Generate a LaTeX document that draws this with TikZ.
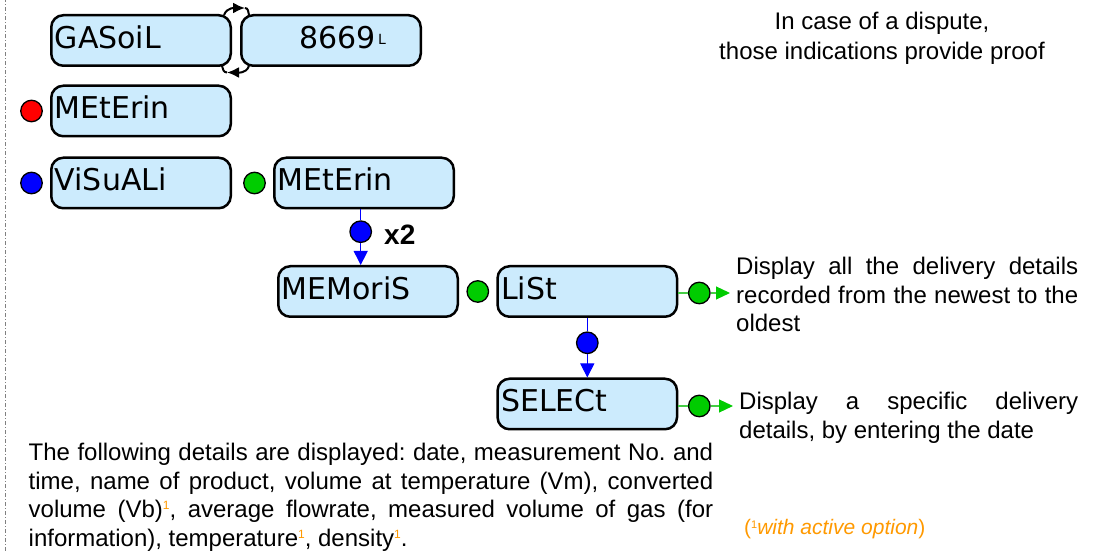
\documentclass[tikz,border=0pt]{standalone}
\usepackage{fontspec}
\setmainfont{Liberation Sans}
\newfontfamily\lcd{DejaVu Sans}
\usetikzlibrary{positioning, shapes.misc, arrows.meta}

\definecolor{lcdblue}{RGB}{204,235,253}
\definecolor{dotgreen}{RGB}{0,204,0}
\definecolor{linegreen}{RGB}{70,205,70}
\definecolor{optorange}{RGB}{255,153,0}

\tikzstyle{screen} = [rectangle, rounded corners=12pt, minimum width=179.5pt, minimum height=50.5pt, text width=172.5pt, inner xsep=3.5pt, text height=22pt, text depth=6.5pt, align=left, draw=black, line width=2.5pt, fill=lcdblue, font=\lcd\fontsize{30}{30}\selectfont]
\tikzstyle{led} = [circle, minimum size=21.5pt, inner sep=0pt, draw=black, line width=1.3pt]
\tikzstyle{bline} = [blue, line width=1pt]
\tikzstyle{barrow} = [blue, line width=1pt, -{Triangle[width=14pt,length=14pt]}]
\tikzstyle{gline} = [linegreen, line width=1.2pt]
\tikzstyle{garrow} = [linegreen, line width=1.2pt, -{Triangle[width=13pt,length=14pt,color=dotgreen]}, shorten >=6pt]
\tikzstyle{toggle} = [line width=2pt]
\tikzstyle{togglehead} = [line width=2pt, -{Latex[length=12pt,width=11pt]}]
\tikzstyle{desc} = [inner sep=0pt, font=\fontsize{24}{28.5}\selectfont, align=justify]
\def\dsx{37.5pt}
\newcommand{\optmark}{\raisebox{8pt}{\fontsize{12}{12}\selectfont\color{optorange}1}}

\tolerance=10000
\frenchspacing

\begin{document}
\begin{tikzpicture}[x=1pt, y=1pt, node distance=72pt]
\useasboundingbox (0,0) rectangle (1117,551);
\draw [gray, line width=0.8pt, dash pattern=on 4pt off 2pt on 1pt off 2pt] (5,0) -- (5,551);

\node (gasoil) [screen] at (141,510.5) {GASoiL};
\node (volume) [screen, right of=gasoil, xshift=118pt] {\hspace*{55pt}8669\kern2pt\raisebox{3.5pt}{\fontsize{14}{14}\selectfont L}};
% the two arrows between the two screens
\coordinate (ttop) at (245,543);
\coordinate (tbot) at (227,478.5);
\draw [togglehead] ([xshift=-8pt, yshift=-1pt]gasoil.north east) to[out=70, in=180] (ttop);
\draw [toggle] (ttop) to[out=0, in=100] ([xshift=9pt, yshift=-1pt]volume.north west);
\draw [togglehead] ([xshift=9pt, yshift=1pt]volume.south west) to[out=-110, in=0] (tbot);
\draw [toggle] (tbot) to[out=180, in=-80] ([xshift=-10pt, yshift=1pt]gasoil.south east);

\node (metering1) [screen, below of=gasoil, yshift=1.5pt] {MEtErin};
\node (rdot) [led, fill=red, left of=metering1, xshift=-\dsx] {};
\node (visu) [screen, below of=metering1] {ViSuALi};
\node (bdot1) [led, fill=blue, left of=visu, xshift=-\dsx] {};

\node (metering2) [screen, right of=visu, xshift=151pt] {MEtErin};
\node (gdot1) [led, fill=dotgreen, left of=metering2, xshift=-\dsx] {};
\node (bdot2) [led, fill=blue, below of=metering2, xshift=-3.3pt, yshift=23.3pt] {};
\node (times) [anchor=base west, inner sep=0pt, font=\fontsize{28}{30}\selectfont\bfseries] at (384,306) {x2};

\node (memoris) [screen, below of=metering2, yshift=-36.5pt, xshift=4pt] {MEMoriS};
\draw [bline] (metering2.south -| bdot2) -- (bdot2);
\draw [barrow] (bdot2) -- (bdot2 |- memoris.north);

\node (list) [screen, right of=memoris, xshift=147.3pt] {LiSt};
\node (gdot2) [led, fill=dotgreen, left of=list, xshift=-\dsx] {};
\node (gdot3) [led, fill=dotgreen, right of=list, xshift=40pt, yshift=-1.5pt] {};
\node (bdot3) [led, fill=blue, below of=list, yshift=20.7pt] {};

\node (select) [screen, below of=list, yshift=-40.5pt] {SELECt};
\node (gdot4) [led, fill=dotgreen, right of=select, xshift=40pt, yshift=-2pt] {};
\draw [bline] (list) -- (bdot3);
\draw [barrow] (bdot3) -- (select);

% texts on the right
\node (dispute) [anchor=base, align=center, inner sep=0pt, font=\fontsize{24}{30}\selectfont] at (882,491) {In case of a dispute,\\those indications provide proof};
\node (note1) [desc, text width=342pt, anchor=base west] at (736,276) {Display all the delivery details\linebreak recorded from the newest to the\linebreak oldest};
\node (note2) [desc, text width=339pt, anchor=base west] at (739,141) {Display a specific delivery\linebreak details, by entering the date};

\draw [gline] (list.east |- gdot3) -- (gdot3);
\draw [garrow] (gdot3) -- (gdot3 -| note1.west);
\draw [gline] (select.east |- gdot4) -- (gdot4);
\draw [garrow] (gdot4) -- (gdot4 -| note2.west);

\node (details) [desc, text width=684.5pt, anchor=base west] at (28.5,90) {The following details are displayed: date, measurement No. and\linebreak time, name of product, volume at temperature (Vm), converted\linebreak volume (Vb)\optmark, average flowrate, measured volume of gas (for\linebreak information), temperature\optmark, density\optmark.};
\node (optnote) [anchor=base west, inner sep=0pt, font=\fontsize{21}{24}\selectfont, text=optorange] at (744,16) {(\raisebox{6pt}{\fontsize{11}{11}\selectfont 1}\textit{with active option})};

\end{tikzpicture}
\end{document}
